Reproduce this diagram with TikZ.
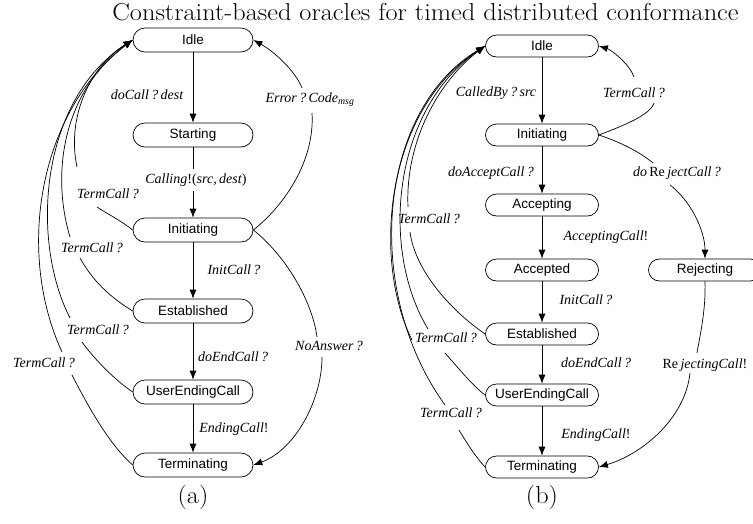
\documentclass[tikz,border=0pt]{standalone}
\usepackage{fontspec}
\newfontfamily\nodefont{Liberation Sans}
\newfontfamily\lblfont{Liberation Serif}
\usetikzlibrary{arrows.meta,calc}
\tikzset{
  st/.style={draw, rectangle, rounded corners=12pt, minimum width=120pt, minimum height=24pt, inner sep=0pt, line width=0.7pt, font=\nodefont\fontsize{13.5}{16}\selectfont},
  stb/.style={st, rounded corners=11pt, minimum width=113pt, minimum height=22pt},
  lb/.style={font=\lblfont\itshape\fontsize{14}{16}\selectfont, inner sep=1pt},
  ar/.style={-{Latex[length=9pt,width=7pt]}, line width=0.7pt},
  ln/.style={line width=0.7pt},
  captxt/.style={font=\fontsize{24.5}{28}\selectfont, inner sep=0pt, xscale=1.075},
}
\begin{document}
\begin{tikzpicture}[x=1pt,y=-1pt]
\useasboundingbox (0,0) rectangle (753,523);
\node[captxt, anchor=base] (title) at (425.5,20) {Constraint-based oracles for timed distributed conformance};

% ---------------- (a)
\node[st] (aIdle) at (193,40) {Idle};
\node[st] (aStart) at (193,135) {Starting};
\node[st] (aInit) at (193,230) {Initiating};
\node[st] (aEst) at (193,311) {Established};
\node[st] (aUEC) at (193,392) {UserEndingCall};
\node[st] (aTerm) at (193,465) {Terminating};

\node[lb] (laDo) at (147,95) {doCall\,?\,dest};
\node[lb, inner ysep=4pt] (laCalling) at (196,180) {Calling\upshape!(\itshape src\/,\,dest\/\upshape)};
\node[lb] (laInit) at (234,270) {InitCall\,?};
\node[lb] (laEnd) at (233,357) {doEndCall\,?};
\node[lb] (laEnding) at (234,429) {EndingCall\upshape!};
\node[lb] (laErr) at (310,100) {Error\,?\,Code\textsubscript{msg}};
\node[lb] (laNo) at (329,346) {NoAnswer\,?};
\node[lb] (laT1) at (108,194) {TermCall\,?};
\node[lb] (laT2) at (92,248) {TermCall\,?};
\node[lb] (laT3) at (98,330) {TermCall\,?};
\node[lb] (laT4) at (44,363) {TermCall\,?};

\draw[ar] (aIdle) -- (aStart);
\draw[ln] (aStart.south) -- (aStart.south |- laCalling.north);
\draw[ar] (aStart.south |- laCalling.south) -- (aInit.north);
\draw[ar] (aInit) -- (aEst);
\draw[ar] (aEst) -- (aUEC);
\draw[ar] (aUEC) -- (aTerm);

\draw[ln] (aInit.east) .. controls (285,205) and (315,160) .. ([shift={(2,13)}]laErr.center);
\draw[ar] ([shift={(-8,-12)}]laErr.center) .. controls (296,72) and (275,52) .. (aIdle.east);
\draw[ln] (aInit.east) .. controls (285,255) and (312,300) .. ([shift={(-12,-9)}]laNo.center);
\draw[ar] ([shift={(-7,11)}]laNo.center) .. controls (322,400) and (295,450) .. (aTerm.east);

\draw[ln] (aInit.west) .. controls (120,220) and (106,213) .. ([shift={(-11,13)}]laT1.center);
\draw[ar] ([shift={(-31,-27)}]laT1.center) .. controls (66,115) and (92,65) .. (aIdle.west);
\draw[ln] (aEst.west) .. controls (115,300) and (95,285) .. ([shift={(-12,10)}]laT2.center);
\draw[ar] ([shift={(-22,-11)}]laT2.center) .. controls (50,170) and (65,90) .. (aIdle.west);
\draw[ln] (aUEC.west) .. controls (115,380) and (95,360) .. ([shift={(-16,12)}]laT3.center);
\draw[ar] ([shift={(-28,-12)}]laT3.center) .. controls (30,240) and (40,100) .. (aIdle.west);
\draw[ln] (aTerm.west) .. controls (110,445) and (90,410) .. ([shift={(28,12)}]laT4.center);
\draw[ar] ([shift={(18,-11)}]laT4.center) .. controls (15,250) and (40,110) .. (aIdle.west);

\node[captxt] (capA) at (193,497) {(a)};

% ---------------- (b)
\node[stb] (bIdle) at (542,46) {Idle};
\node[stb] (bInit) at (542,135) {Initiating};
\node[stb] (bAcc) at (542,205) {Accepting};
\node[stb] (bAcd) at (542,270) {Accepted};
\node[stb] (bRej) at (705,270) {Rejecting};
\node[stb] (bEst) at (542,334) {Established};
\node[stb] (bUEC) at (542,395) {UserEndingCall};
\node[stb] (bTerm) at (542,467) {Terminating};

\node[lb] (lbCalled) at (496,93) {CalledBy\,?\,src};
\node[lb] (lbTR) at (634,93) {TermCall\,?};
\node[lb] (lbRej) at (677,173) {do\,\upshape Re\,\itshape jectCall\,?};
\node[lb] (lbAccept) at (491,173) {doAcceptCall\,?};
\node[lb] (lbAccepting) at (606,237) {AcceptingCall\upshape!};
\node[lb] (lbInit) at (586,300) {InitCall\,?};
\node[lb] (lbEnd) at (596,363) {doEndCall\,?};
\node[lb] (lbEnding) at (596,435) {EndingCall\upshape!};
\node[lb] (lbRejecting) at (705,365) {\upshape Re\,\itshape jectingCall\upshape!};
\node[lb] (lbT1) at (429,219) {TermCall\,?};
\node[lb] (lbT2) at (446,338) {TermCall\,?};
\node[lb] (lbT3) at (451,413) {TermCall\,?};

\draw[ar] (bIdle) -- (bInit);
\draw[ar] (bInit) -- (bAcc);
\draw[ar] (bAcc) -- (bAcd);
\draw[ar] (bAcd) -- (bEst);
\draw[ar] (bEst) -- (bUEC);
\draw[ar] (bUEC) -- (bTerm);

\draw[ln] (bInit.east) .. controls (625,125) and (650,115) .. ([shift={(20,10)}]lbTR.center);
\draw[ar] ([shift={(0,-16)}]lbTR.center) .. controls (630,65) and (612,50) .. (bIdle.east);
\draw[ln] (bInit.east) .. controls (620,142) and (640,152) .. ([shift={(-24,-10)}]lbRej.center);
\draw[ar] ([shift={(-7,12)}]lbRej.center) .. controls (690,200) and (705,230) .. (bRej.north);
\draw[ln] (bRej.south) .. controls (706,310) and (700,335) .. ([shift={(-8,-12)}]lbRejecting.center);
\draw[ar] ([shift={(-15,8)}]lbRejecting.center) .. controls (685,420) and (640,455) .. (bTerm.east);

\draw[ar] ([shift={(-21,-12)}]lbT1.center) .. controls (405,140) and (440,80) .. (bIdle.west);
\draw[ln] ([shift={(-19,13)}]lbT1.center) .. controls (415,270) and (450,310) .. (bEst.west);
\draw[ar] ([shift={(-18,-9)}]lbT2.center) .. controls (380,250) and (392,110) .. (bIdle.west);
\draw[ar] ([shift={(-34,2)}]lbT2.center) .. controls (372,260) and (385,110) .. (bIdle.west);
\draw[ln] ([shift={(-1,15)}]lbT2.center) .. controls (460,370) and (475,388) .. (bUEC.west);
\draw[ar] ([shift={(-6,-8)}]lbT3.center) .. controls (362,290) and (378,110) .. (bIdle.west);
\draw[ln] ([shift={(8,17)}]lbT3.center) .. controls (468,445) and (478,460) .. (bTerm.west);

\node[captxt] (capB) at (542,497) {(b)};
\end{tikzpicture}
\end{document}
